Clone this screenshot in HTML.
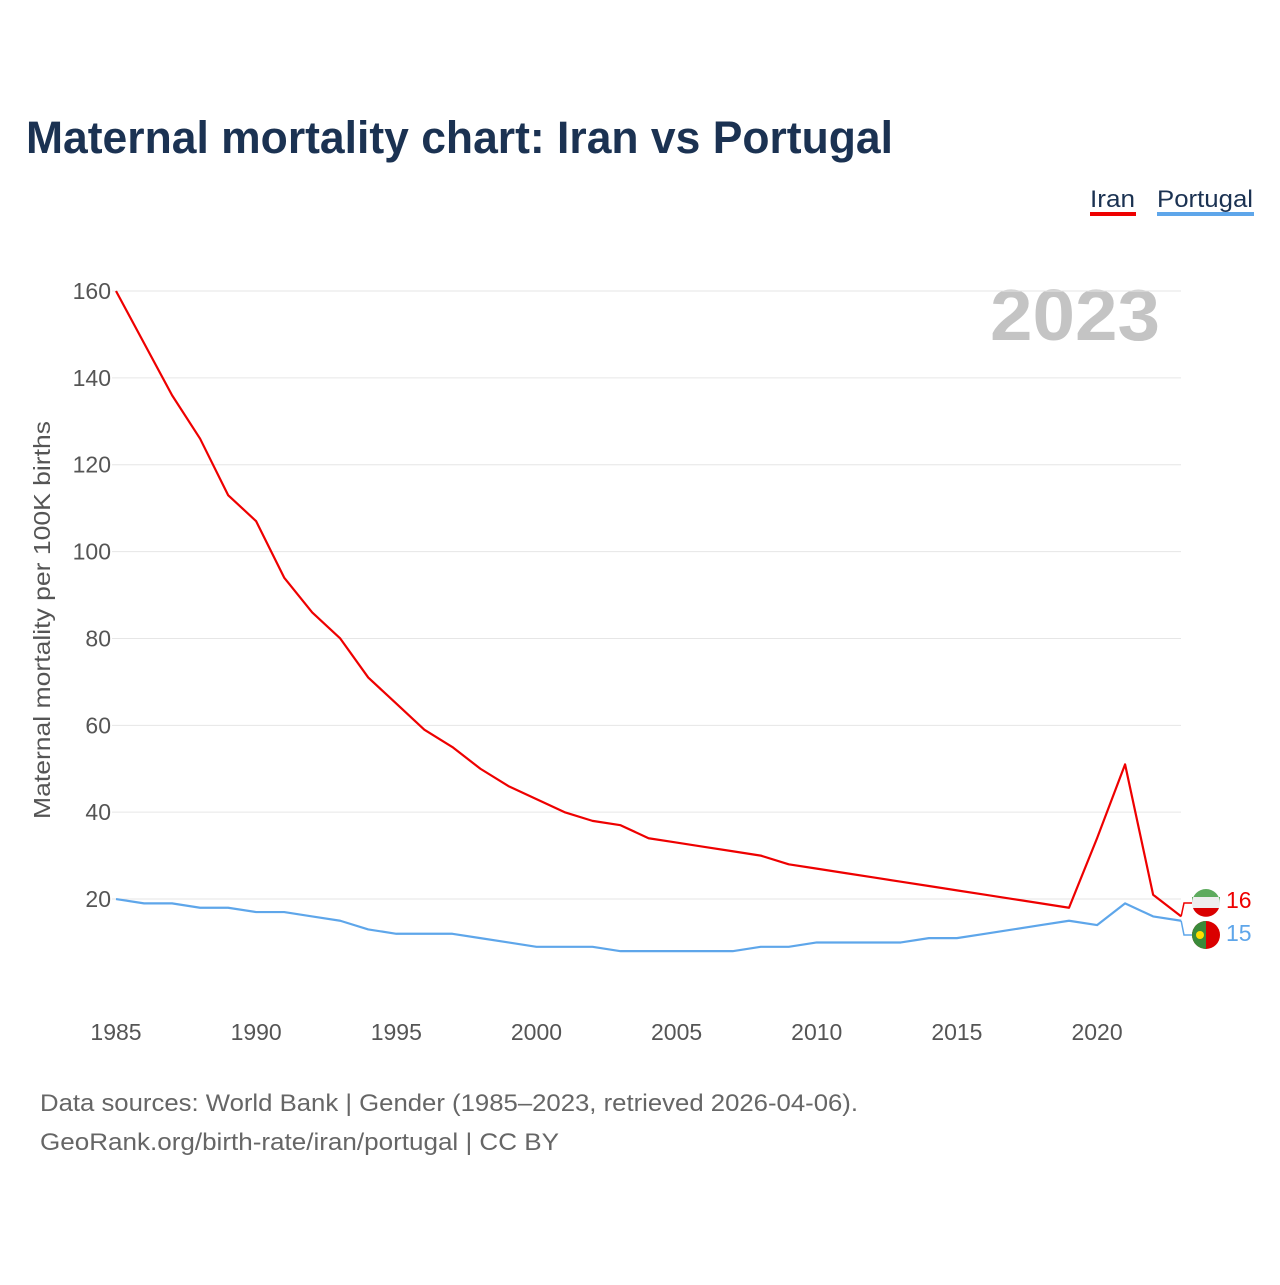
<!DOCTYPE html>
<html><head><meta charset="utf-8"><style>
body{margin:0;background:#fff;width:1280px;height:1280px;overflow:hidden;font-family:"Liberation Sans",sans-serif}
</style></head><body>
<svg id="c" width="1280" height="1280" style="font-family:'Liberation Sans',sans-serif">
<text x="26" y="153" font-size="45" font-weight="bold" fill="#1b3252" textLength="867" lengthAdjust="spacingAndGlyphs">Maternal mortality chart: Iran vs Portugal</text>
<g>
<text x="1090" y="207" font-size="24" fill="#1b3252" textLength="45" lengthAdjust="spacingAndGlyphs">Iran</text>
<rect x="1090" y="212" width="46" height="4" fill="#ee0000"/>
<text x="1157" y="207" font-size="24" fill="#1b3252" textLength="96" lengthAdjust="spacingAndGlyphs">Portugal</text>
<rect x="1157" y="212" width="97" height="4" fill="#5ea6ea"/>
</g>
<text x="1160" y="340" font-size="72" font-weight="bold" fill="#c4c4c4" text-anchor="end" textLength="170" lengthAdjust="spacingAndGlyphs">2023</text>
<text transform="translate(50,620) rotate(-90)" font-size="23" fill="#555" text-anchor="middle" textLength="398" lengthAdjust="spacingAndGlyphs">Maternal mortality per 100K births</text>
<g id="grid"></g><g id="xt"></g><g id="lines"></g>
<g>
<circle cx="1206" cy="903" r="14" fill="#eee"/>
<path d="M1192,903 A14,14 0 0,1 1220,903 L1220,897 L1192,897Z" fill="#3a9a3a" opacity="0.8"/>
<path d="M1193,908 L1219,908 A14,14 0 0,1 1193,908Z" fill="#da0000"/>
<circle cx="1206" cy="935" r="14" fill="#da0000"/>
<path d="M1206,921 A14,14 0 0,0 1206,949Z" fill="#3a8a3a"/>
<circle cx="1200" cy="935" r="4" fill="#ffdd00"/>
<text x="1226" y="908" font-size="23" fill="#ee0000">16</text>
<text x="1226" y="941" font-size="23" fill="#5ea6ea">15</text>
</g>
<text x="40" y="1111" font-size="24" fill="#666" textLength="818" lengthAdjust="spacingAndGlyphs">Data sources: World Bank | Gender (1985–2023, retrieved 2026-04-06).</text>
<text x="40" y="1150" font-size="24" fill="#666" textLength="519" lengthAdjust="spacingAndGlyphs">GeoRank.org/birth-rate/iran/portugal | CC BY</text>
</svg>
<script>
const years=[1985,1986,1987,1988,1989,1990,1991,1992,1993,1994,1995,1996,1997,1998,1999,2000,2001,2002,2003,2004,2005,2006,2007,2008,2009,2010,2011,2012,2013,2014,2015,2016,2017,2018,2019,2020,2021,2022,2023];
const iran=[160,148,136,126,113,107,94,86,80,71,65,59,55,50,46,43,40,38,37,34,33,32,31,30,28,27,26,25,24,23,22,21,20,19,18,34,51,21,16];
const portugal=[20,19,19,18,18,17,17,16,15,13,12,12,12,11,10,9,9,9,8,8,8,8,8,9,9,10,10,10,10,11,11,12,13,14,15,14,19,16,15];
const yTicks=[20,40,60,80,100,120,140,160];
const xTicks=[1985,1990,1995,2000,2005,2010,2015,2020];
const NS="http://www.w3.org/2000/svg";
const X=v=>116+(v-1985)*28.03;
const Y=v=>985.9-v*4.343;
function mk(tag,attrs,parent){const e=document.createElementNS(NS,tag);for(const k in attrs)e.setAttribute(k,attrs[k]);parent.appendChild(e);return e;}
const grid=document.getElementById('grid');
yTicks.forEach(t=>{
 const l=mk('line',{x1:112,x2:1181,y1:Y(t),y2:Y(t),stroke:'#e6e6e6','stroke-width':1},grid);
 
 
 const tx=mk('text',{x:111,y:Y(t)+8,'font-size':23,fill:'#555','text-anchor':'end'},grid);
 tx.textContent=t;
 
 
});
const xt=document.getElementById('xt');
xTicks.forEach(t=>{
 const tx=mk('text',{x:X(t),y:1040,'font-size':23,fill:'#555','text-anchor':'middle'},xt);
 tx.textContent=t;
 
 
});
const lines=document.getElementById('lines');
function series(vals,color,name,ly){
 const p=mk('polyline',{points:vals.map((v,i)=>X(years[i])+','+Y(v)).join(' '),fill:'none',stroke:color,'stroke-width':2.2,'stroke-linejoin':'round'},lines);
 
 
 const ex=X(years[years.length-1]),ey=Y(vals[vals.length-1]);
 const c=mk('polyline',{points:`${ex},${ey} 1184,${ly} 1192,${ly}`,fill:'none',stroke:color,'stroke-width':1.5},lines);
 
 
}
series(iran,'#ee0000','iran',903);
series(portugal,'#5ea6ea','portugal',935);
</script>
</body></html>
